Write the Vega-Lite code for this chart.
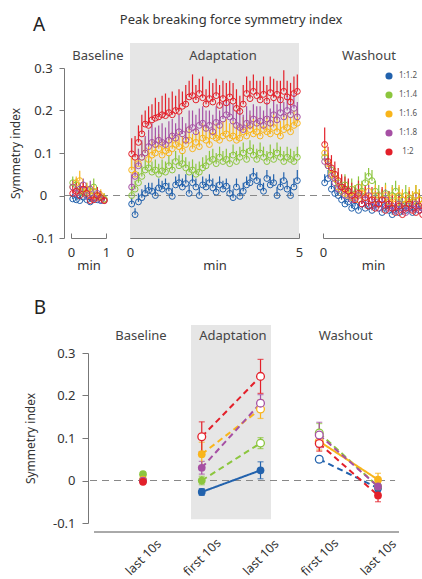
{
"$schema":"https://vega.github.io/schema/vega-lite/v6.json",
"padding":{"left":9,"top":14,"right":0,"bottom":0},
"background":"white",
"config":{
 "font":"Noto Sans",
 "view":{"stroke":null},
 "axis":{"grid":false,"domainColor":"#777","tickColor":"#777","labelColor":"#333","titleColor":"#333","labelFontSize":13,"titleFontSize":13,"titleFontWeight":"normal","labelFont":"Noto Sans","titleFont":"Noto Sans"}
},
"datasets":{
"one":[{}],
"base":[
{"ratio":"1:1.2","t":0.05,"si":-0.008,"hi":0.004},{"ratio":"1:1.2","t":0.15,"si":-0.01,"hi":0.002},{"ratio":"1:1.2","t":0.25,"si":-0.012,"hi":0.003},{"ratio":"1:1.2","t":0.35,"si":-0.004,"hi":0.01},{"ratio":"1:1.2","t":0.45,"si":-0.01,"hi":0.004},{"ratio":"1:1.2","t":0.55,"si":-0.015,"hi":-0.002},{"ratio":"1:1.2","t":0.65,"si":-0.006,"hi":0.008},{"ratio":"1:1.2","t":0.75,"si":-0.01,"hi":0.005},{"ratio":"1:1.2","t":0.85,"si":-0.012,"hi":0.0},{"ratio":"1:1.2","t":0.95,"si":-0.01,"hi":0.004},
{"ratio":"1:1.4","t":0.05,"si":0.03,"hi":0.045},{"ratio":"1:1.4","t":0.15,"si":0.025,"hi":0.04},{"ratio":"1:1.4","t":0.25,"si":0.01,"hi":0.025},{"ratio":"1:1.4","t":0.35,"si":0.005,"hi":0.02},{"ratio":"1:1.4","t":0.45,"si":0.015,"hi":0.03},{"ratio":"1:1.4","t":0.55,"si":0.01,"hi":0.025},{"ratio":"1:1.4","t":0.65,"si":0.02,"hi":0.04},{"ratio":"1:1.4","t":0.75,"si":0.0,"hi":0.015},{"ratio":"1:1.4","t":0.85,"si":-0.005,"hi":0.01},{"ratio":"1:1.4","t":0.95,"si":-0.008,"hi":0.005},
{"ratio":"1:1.6","t":0.05,"si":0.02,"hi":0.035},{"ratio":"1:1.6","t":0.15,"si":0.03,"hi":0.045},{"ratio":"1:1.6","t":0.25,"si":0.035,"hi":0.058},{"ratio":"1:1.6","t":0.35,"si":0.01,"hi":0.03},{"ratio":"1:1.6","t":0.45,"si":0.015,"hi":0.03},{"ratio":"1:1.6","t":0.55,"si":0.0,"hi":0.015},{"ratio":"1:1.6","t":0.65,"si":0.01,"hi":0.025},{"ratio":"1:1.6","t":0.75,"si":-0.005,"hi":0.01},{"ratio":"1:1.6","t":0.85,"si":0.0,"hi":0.015},{"ratio":"1:1.6","t":0.95,"si":-0.01,"hi":0.005},
{"ratio":"1:1.8","t":0.05,"si":0.02,"hi":0.035},{"ratio":"1:1.8","t":0.15,"si":0.005,"hi":0.02},{"ratio":"1:1.8","t":0.25,"si":0.015,"hi":0.03},{"ratio":"1:1.8","t":0.35,"si":0.025,"hi":0.04},{"ratio":"1:1.8","t":0.45,"si":0.0,"hi":0.015},{"ratio":"1:1.8","t":0.55,"si":0.015,"hi":0.035},{"ratio":"1:1.8","t":0.65,"si":-0.005,"hi":0.01},{"ratio":"1:1.8","t":0.75,"si":0.005,"hi":0.02},{"ratio":"1:1.8","t":0.85,"si":-0.01,"hi":0.005},{"ratio":"1:1.8","t":0.95,"si":-0.012,"hi":0.0},
{"ratio":"1:2","t":0.05,"si":0.005,"hi":0.025},{"ratio":"1:2","t":0.15,"si":0.01,"hi":0.03},{"ratio":"1:2","t":0.25,"si":0.0,"hi":0.02},{"ratio":"1:2","t":0.35,"si":0.015,"hi":0.03},{"ratio":"1:2","t":0.45,"si":0.005,"hi":0.02},{"ratio":"1:2","t":0.55,"si":-0.012,"hi":0.0},{"ratio":"1:2","t":0.65,"si":-0.01,"hi":0.005},{"ratio":"1:2","t":0.75,"si":0.0,"hi":0.02},{"ratio":"1:2","t":0.85,"si":-0.005,"hi":0.01},{"ratio":"1:2","t":0.95,"si":-0.012,"hi":0.0}
],
"adapt":[
{"ratio":"1:1.2","t":0.05,"si":-0.02,"hi":-0.005},{"ratio":"1:1.2","t":0.15,"si":-0.045,"hi":-0.03},{"ratio":"1:1.2","t":0.25,"si":-0.015,"hi":0.005},{"ratio":"1:1.2","t":0.35,"si":-0.005,"hi":0.015},{"ratio":"1:1.2","t":0.45,"si":0.005,"hi":0.025},{"ratio":"1:1.2","t":0.55,"si":0.012,"hi":0.03},{"ratio":"1:1.2","t":0.65,"si":0.01,"hi":0.03},{"ratio":"1:1.2","t":0.75,"si":0.0,"hi":0.02},{"ratio":"1:1.2","t":0.85,"si":0.018,"hi":0.04},{"ratio":"1:1.2","t":0.95,"si":0.015,"hi":0.035},
{"ratio":"1:1.2","t":1.05,"si":0.022,"hi":0.04},{"ratio":"1:1.2","t":1.15,"si":0.01,"hi":0.03},{"ratio":"1:1.2","t":1.25,"si":-0.002,"hi":0.018},{"ratio":"1:1.2","t":1.35,"si":0.025,"hi":0.045},{"ratio":"1:1.2","t":1.45,"si":0.03,"hi":0.05},{"ratio":"1:1.2","t":1.55,"si":0.02,"hi":0.04},{"ratio":"1:1.2","t":1.65,"si":0.028,"hi":0.05},{"ratio":"1:1.2","t":1.75,"si":0.005,"hi":0.025},{"ratio":"1:1.2","t":1.85,"si":0.03,"hi":0.05},{"ratio":"1:1.2","t":1.95,"si":0.02,"hi":0.04},
{"ratio":"1:1.2","t":2.05,"si":0.0,"hi":0.02},{"ratio":"1:1.2","t":2.15,"si":0.025,"hi":0.045},{"ratio":"1:1.2","t":2.25,"si":0.02,"hi":0.04},{"ratio":"1:1.2","t":2.35,"si":0.03,"hi":0.05},{"ratio":"1:1.2","t":2.45,"si":0.018,"hi":0.04},{"ratio":"1:1.2","t":2.55,"si":0.008,"hi":0.03},{"ratio":"1:1.2","t":2.65,"si":0.025,"hi":0.045},{"ratio":"1:1.2","t":2.75,"si":0.015,"hi":0.035},{"ratio":"1:1.2","t":2.85,"si":0.022,"hi":0.04},{"ratio":"1:1.2","t":2.95,"si":0.005,"hi":0.025},
{"ratio":"1:1.2","t":3.05,"si":-0.005,"hi":0.015},{"ratio":"1:1.2","t":3.15,"si":0.02,"hi":0.04},{"ratio":"1:1.2","t":3.25,"si":-0.002,"hi":0.018},{"ratio":"1:1.2","t":3.35,"si":0.01,"hi":0.03},{"ratio":"1:1.2","t":3.45,"si":0.025,"hi":0.045},{"ratio":"1:1.2","t":3.55,"si":0.03,"hi":0.05},{"ratio":"1:1.2","t":3.65,"si":0.045,"hi":0.065},{"ratio":"1:1.2","t":3.75,"si":0.035,"hi":0.055},{"ratio":"1:1.2","t":3.85,"si":0.02,"hi":0.04},{"ratio":"1:1.2","t":3.95,"si":0.01,"hi":0.03},
{"ratio":"1:1.2","t":4.05,"si":0.04,"hi":0.06},{"ratio":"1:1.2","t":4.15,"si":0.025,"hi":0.045},{"ratio":"1:1.2","t":4.25,"si":0.03,"hi":0.05},{"ratio":"1:1.2","t":4.35,"si":0.0,"hi":0.02},{"ratio":"1:1.2","t":4.45,"si":0.02,"hi":0.04},{"ratio":"1:1.2","t":4.55,"si":0.035,"hi":0.055},{"ratio":"1:1.2","t":4.65,"si":0.015,"hi":0.035},{"ratio":"1:1.2","t":4.75,"si":0.0,"hi":0.02},{"ratio":"1:1.2","t":4.85,"si":0.02,"hi":0.04},{"ratio":"1:1.2","t":4.95,"si":0.035,"hi":0.06},
{"ratio":"1:1.4","t":0.05,"si":0.0,"hi":0.02},{"ratio":"1:1.4","t":0.15,"si":0.015,"hi":0.035},{"ratio":"1:1.4","t":0.25,"si":0.03,"hi":0.055},{"ratio":"1:1.4","t":0.35,"si":0.045,"hi":0.07},{"ratio":"1:1.4","t":0.45,"si":0.06,"hi":0.085},{"ratio":"1:1.4","t":0.55,"si":0.065,"hi":0.09},{"ratio":"1:1.4","t":0.65,"si":0.055,"hi":0.08},{"ratio":"1:1.4","t":0.75,"si":0.06,"hi":0.085},{"ratio":"1:1.4","t":0.85,"si":0.05,"hi":0.075},{"ratio":"1:1.4","t":0.95,"si":0.058,"hi":0.085},
{"ratio":"1:1.4","t":1.05,"si":0.055,"hi":0.08},{"ratio":"1:1.4","t":1.15,"si":0.07,"hi":0.095},{"ratio":"1:1.4","t":1.25,"si":0.06,"hi":0.085},{"ratio":"1:1.4","t":1.35,"si":0.08,"hi":0.105},{"ratio":"1:1.4","t":1.45,"si":0.07,"hi":0.095},{"ratio":"1:1.4","t":1.55,"si":0.075,"hi":0.1},{"ratio":"1:1.4","t":1.65,"si":0.065,"hi":0.09},{"ratio":"1:1.4","t":1.75,"si":0.055,"hi":0.08},{"ratio":"1:1.4","t":1.85,"si":0.06,"hi":0.085},{"ratio":"1:1.4","t":1.95,"si":0.05,"hi":0.075},
{"ratio":"1:1.4","t":2.05,"si":0.055,"hi":0.08},{"ratio":"1:1.4","t":2.15,"si":0.065,"hi":0.09},{"ratio":"1:1.4","t":2.25,"si":0.07,"hi":0.095},{"ratio":"1:1.4","t":2.35,"si":0.08,"hi":0.105},{"ratio":"1:1.4","t":2.45,"si":0.085,"hi":0.11},{"ratio":"1:1.4","t":2.55,"si":0.075,"hi":0.1},{"ratio":"1:1.4","t":2.65,"si":0.09,"hi":0.115},{"ratio":"1:1.4","t":2.75,"si":0.08,"hi":0.105},{"ratio":"1:1.4","t":2.85,"si":0.085,"hi":0.11},{"ratio":"1:1.4","t":2.95,"si":0.075,"hi":0.1},
{"ratio":"1:1.4","t":3.05,"si":0.095,"hi":0.12},{"ratio":"1:1.4","t":3.15,"si":0.08,"hi":0.105},{"ratio":"1:1.4","t":3.25,"si":0.09,"hi":0.115},{"ratio":"1:1.4","t":3.35,"si":0.1,"hi":0.125},{"ratio":"1:1.4","t":3.45,"si":0.085,"hi":0.11},{"ratio":"1:1.4","t":3.55,"si":0.105,"hi":0.13},{"ratio":"1:1.4","t":3.65,"si":0.095,"hi":0.12},{"ratio":"1:1.4","t":3.75,"si":0.085,"hi":0.11},{"ratio":"1:1.4","t":3.85,"si":0.1,"hi":0.125},{"ratio":"1:1.4","t":3.95,"si":0.09,"hi":0.115},
{"ratio":"1:1.4","t":4.05,"si":0.08,"hi":0.105},{"ratio":"1:1.4","t":4.15,"si":0.095,"hi":0.12},{"ratio":"1:1.4","t":4.25,"si":0.085,"hi":0.11},{"ratio":"1:1.4","t":4.35,"si":0.1,"hi":0.125},{"ratio":"1:1.4","t":4.45,"si":0.09,"hi":0.115},{"ratio":"1:1.4","t":4.55,"si":0.08,"hi":0.105},{"ratio":"1:1.4","t":4.65,"si":0.09,"hi":0.115},{"ratio":"1:1.4","t":4.75,"si":0.085,"hi":0.11},{"ratio":"1:1.4","t":4.85,"si":0.08,"hi":0.105},{"ratio":"1:1.4","t":4.95,"si":0.09,"hi":0.115},
{"ratio":"1:1.6","t":0.05,"si":0.06,"hi":0.09},{"ratio":"1:1.6","t":0.15,"si":0.05,"hi":0.085},{"ratio":"1:1.6","t":0.25,"si":0.075,"hi":0.11},{"ratio":"1:1.6","t":0.35,"si":0.09,"hi":0.125},{"ratio":"1:1.6","t":0.45,"si":0.1,"hi":0.135},{"ratio":"1:1.6","t":0.55,"si":0.085,"hi":0.12},{"ratio":"1:1.6","t":0.65,"si":0.095,"hi":0.13},{"ratio":"1:1.6","t":0.75,"si":0.1,"hi":0.14},{"ratio":"1:1.6","t":0.85,"si":0.11,"hi":0.145},{"ratio":"1:1.6","t":0.95,"si":0.095,"hi":0.13},
{"ratio":"1:1.6","t":1.05,"si":0.105,"hi":0.14},{"ratio":"1:1.6","t":1.15,"si":0.1,"hi":0.135},{"ratio":"1:1.6","t":1.25,"si":0.11,"hi":0.15},{"ratio":"1:1.6","t":1.35,"si":0.12,"hi":0.155},{"ratio":"1:1.6","t":1.45,"si":0.115,"hi":0.15},{"ratio":"1:1.6","t":1.55,"si":0.105,"hi":0.14},{"ratio":"1:1.6","t":1.65,"si":0.12,"hi":0.16},{"ratio":"1:1.6","t":1.75,"si":0.13,"hi":0.165},{"ratio":"1:1.6","t":1.85,"si":0.11,"hi":0.145},{"ratio":"1:1.6","t":1.95,"si":0.125,"hi":0.16},
{"ratio":"1:1.6","t":2.05,"si":0.115,"hi":0.15},{"ratio":"1:1.6","t":2.15,"si":0.135,"hi":0.17},{"ratio":"1:1.6","t":2.25,"si":0.13,"hi":0.165},{"ratio":"1:1.6","t":2.35,"si":0.12,"hi":0.155},{"ratio":"1:1.6","t":2.45,"si":0.14,"hi":0.175},{"ratio":"1:1.6","t":2.55,"si":0.135,"hi":0.17},{"ratio":"1:1.6","t":2.65,"si":0.13,"hi":0.165},{"ratio":"1:1.6","t":2.75,"si":0.14,"hi":0.175},{"ratio":"1:1.6","t":2.85,"si":0.145,"hi":0.18},{"ratio":"1:1.6","t":2.95,"si":0.135,"hi":0.17},
{"ratio":"1:1.6","t":3.05,"si":0.14,"hi":0.175},{"ratio":"1:1.6","t":3.15,"si":0.13,"hi":0.165},{"ratio":"1:1.6","t":3.25,"si":0.135,"hi":0.17},{"ratio":"1:1.6","t":3.35,"si":0.15,"hi":0.185},{"ratio":"1:1.6","t":3.45,"si":0.14,"hi":0.175},{"ratio":"1:1.6","t":3.55,"si":0.155,"hi":0.19},{"ratio":"1:1.6","t":3.65,"si":0.145,"hi":0.18},{"ratio":"1:1.6","t":3.75,"si":0.15,"hi":0.185},{"ratio":"1:1.6","t":3.85,"si":0.14,"hi":0.175},{"ratio":"1:1.6","t":3.95,"si":0.155,"hi":0.19},
{"ratio":"1:1.6","t":4.05,"si":0.15,"hi":0.185},{"ratio":"1:1.6","t":4.15,"si":0.145,"hi":0.18},{"ratio":"1:1.6","t":4.25,"si":0.16,"hi":0.195},{"ratio":"1:1.6","t":4.35,"si":0.15,"hi":0.185},{"ratio":"1:1.6","t":4.45,"si":0.14,"hi":0.175},{"ratio":"1:1.6","t":4.55,"si":0.155,"hi":0.19},{"ratio":"1:1.6","t":4.65,"si":0.16,"hi":0.195},{"ratio":"1:1.6","t":4.75,"si":0.15,"hi":0.185},{"ratio":"1:1.6","t":4.85,"si":0.165,"hi":0.2},{"ratio":"1:1.6","t":4.95,"si":0.17,"hi":0.205},
{"ratio":"1:1.8","t":0.05,"si":0.02,"hi":0.05},{"ratio":"1:1.8","t":0.15,"si":0.045,"hi":0.08},{"ratio":"1:1.8","t":0.25,"si":0.07,"hi":0.11},{"ratio":"1:1.8","t":0.35,"si":0.09,"hi":0.13},{"ratio":"1:1.8","t":0.45,"si":0.1,"hi":0.14},{"ratio":"1:1.8","t":0.55,"si":0.115,"hi":0.155},{"ratio":"1:1.8","t":0.65,"si":0.125,"hi":0.17},{"ratio":"1:1.8","t":0.75,"si":0.12,"hi":0.16},{"ratio":"1:1.8","t":0.85,"si":0.13,"hi":0.165},{"ratio":"1:1.8","t":0.95,"si":0.125,"hi":0.17},
{"ratio":"1:1.8","t":1.05,"si":0.12,"hi":0.16},{"ratio":"1:1.8","t":1.15,"si":0.13,"hi":0.175},{"ratio":"1:1.8","t":1.25,"si":0.14,"hi":0.18},{"ratio":"1:1.8","t":1.35,"si":0.135,"hi":0.17},{"ratio":"1:1.8","t":1.45,"si":0.15,"hi":0.19},{"ratio":"1:1.8","t":1.55,"si":0.145,"hi":0.185},{"ratio":"1:1.8","t":1.65,"si":0.13,"hi":0.17},{"ratio":"1:1.8","t":1.75,"si":0.155,"hi":0.2},{"ratio":"1:1.8","t":1.85,"si":0.16,"hi":0.2},{"ratio":"1:1.8","t":1.95,"si":0.15,"hi":0.19},
{"ratio":"1:1.8","t":2.05,"si":0.165,"hi":0.205},{"ratio":"1:1.8","t":2.15,"si":0.17,"hi":0.21},{"ratio":"1:1.8","t":2.25,"si":0.158,"hi":0.2},{"ratio":"1:1.8","t":2.35,"si":0.165,"hi":0.2},{"ratio":"1:1.8","t":2.45,"si":0.15,"hi":0.19},{"ratio":"1:1.8","t":2.55,"si":0.172,"hi":0.21},{"ratio":"1:1.8","t":2.65,"si":0.165,"hi":0.2},{"ratio":"1:1.8","t":2.75,"si":0.18,"hi":0.22},{"ratio":"1:1.8","t":2.85,"si":0.19,"hi":0.225},{"ratio":"1:1.8","t":2.95,"si":0.185,"hi":0.22},
{"ratio":"1:1.8","t":3.05,"si":0.175,"hi":0.215},{"ratio":"1:1.8","t":3.15,"si":0.165,"hi":0.2},{"ratio":"1:1.8","t":3.25,"si":0.16,"hi":0.2},{"ratio":"1:1.8","t":3.35,"si":0.155,"hi":0.19},{"ratio":"1:1.8","t":3.45,"si":0.17,"hi":0.21},{"ratio":"1:1.8","t":3.55,"si":0.165,"hi":0.2},{"ratio":"1:1.8","t":3.65,"si":0.18,"hi":0.215},{"ratio":"1:1.8","t":3.75,"si":0.17,"hi":0.21},{"ratio":"1:1.8","t":3.85,"si":0.175,"hi":0.21},{"ratio":"1:1.8","t":3.95,"si":0.165,"hi":0.2},
{"ratio":"1:1.8","t":4.05,"si":0.18,"hi":0.22},{"ratio":"1:1.8","t":4.15,"si":0.17,"hi":0.205},{"ratio":"1:1.8","t":4.25,"si":0.19,"hi":0.225},{"ratio":"1:1.8","t":4.35,"si":0.178,"hi":0.215},{"ratio":"1:1.8","t":4.45,"si":0.195,"hi":0.23},{"ratio":"1:1.8","t":4.55,"si":0.185,"hi":0.22},{"ratio":"1:1.8","t":4.65,"si":0.2,"hi":0.235},{"ratio":"1:1.8","t":4.75,"si":0.19,"hi":0.225},{"ratio":"1:1.8","t":4.85,"si":0.205,"hi":0.24},{"ratio":"1:1.8","t":4.95,"si":0.185,"hi":0.22},
{"ratio":"1:2","t":0.05,"si":0.098,"hi":0.135},{"ratio":"1:2","t":0.15,"si":0.09,"hi":0.14},{"ratio":"1:2","t":0.25,"si":0.125,"hi":0.165},{"ratio":"1:2","t":0.35,"si":0.145,"hi":0.19},{"ratio":"1:2","t":0.45,"si":0.168,"hi":0.2},{"ratio":"1:2","t":0.55,"si":0.165,"hi":0.21},{"ratio":"1:2","t":0.65,"si":0.178,"hi":0.215},{"ratio":"1:2","t":0.75,"si":0.182,"hi":0.23},{"ratio":"1:2","t":0.85,"si":0.185,"hi":0.22},{"ratio":"1:2","t":0.95,"si":0.19,"hi":0.235},
{"ratio":"1:2","t":1.05,"si":0.188,"hi":0.24},{"ratio":"1:2","t":1.15,"si":0.195,"hi":0.23},{"ratio":"1:2","t":1.25,"si":0.19,"hi":0.245},{"ratio":"1:2","t":1.35,"si":0.2,"hi":0.235},{"ratio":"1:2","t":1.45,"si":0.198,"hi":0.25},{"ratio":"1:2","t":1.55,"si":0.21,"hi":0.245},{"ratio":"1:2","t":1.65,"si":0.215,"hi":0.26},{"ratio":"1:2","t":1.75,"si":0.232,"hi":0.27},{"ratio":"1:2","t":1.85,"si":0.235,"hi":0.285},{"ratio":"1:2","t":1.95,"si":0.225,"hi":0.26},
{"ratio":"1:2","t":2.05,"si":0.24,"hi":0.275},{"ratio":"1:2","t":2.15,"si":0.23,"hi":0.28},{"ratio":"1:2","t":2.25,"si":0.215,"hi":0.25},{"ratio":"1:2","t":2.35,"si":0.228,"hi":0.27},{"ratio":"1:2","t":2.45,"si":0.22,"hi":0.265},{"ratio":"1:2","t":2.55,"si":0.235,"hi":0.275},{"ratio":"1:2","t":2.65,"si":0.212,"hi":0.26},{"ratio":"1:2","t":2.75,"si":0.228,"hi":0.27},{"ratio":"1:2","t":2.85,"si":0.218,"hi":0.265},{"ratio":"1:2","t":2.95,"si":0.232,"hi":0.27},
{"ratio":"1:2","t":3.05,"si":0.222,"hi":0.265},{"ratio":"1:2","t":3.15,"si":0.205,"hi":0.25},{"ratio":"1:2","t":3.25,"si":0.198,"hi":0.235},{"ratio":"1:2","t":3.35,"si":0.215,"hi":0.26},{"ratio":"1:2","t":3.45,"si":0.24,"hi":0.28},{"ratio":"1:2","t":3.55,"si":0.228,"hi":0.27},{"ratio":"1:2","t":3.65,"si":0.245,"hi":0.285},{"ratio":"1:2","t":3.75,"si":0.235,"hi":0.27},{"ratio":"1:2","t":3.85,"si":0.225,"hi":0.27},{"ratio":"1:2","t":3.95,"si":0.238,"hi":0.28},
{"ratio":"1:2","t":4.05,"si":0.222,"hi":0.26},{"ratio":"1:2","t":4.15,"si":0.242,"hi":0.28},{"ratio":"1:2","t":4.25,"si":0.23,"hi":0.275},{"ratio":"1:2","t":4.35,"si":0.238,"hi":0.27},{"ratio":"1:2","t":4.45,"si":0.225,"hi":0.27},{"ratio":"1:2","t":4.55,"si":0.245,"hi":0.295},{"ratio":"1:2","t":4.65,"si":0.232,"hi":0.27},{"ratio":"1:2","t":4.75,"si":0.22,"hi":0.265},{"ratio":"1:2","t":4.85,"si":0.24,"hi":0.28},{"ratio":"1:2","t":4.95,"si":0.245,"hi":0.285}
],
"wash":[
{"ratio":"1:1.2","t":0.05,"si":0.03,"hi":0.05},{"ratio":"1:1.2","t":0.15,"si":0.04,"hi":0.06},{"ratio":"1:1.2","t":0.25,"si":0.015,"hi":0.035},{"ratio":"1:1.2","t":0.35,"si":0.005,"hi":0.025},{"ratio":"1:1.2","t":0.45,"si":0.0,"hi":0.02},{"ratio":"1:1.2","t":0.55,"si":-0.01,"hi":0.01},{"ratio":"1:1.2","t":0.65,"si":-0.02,"hi":0.0},{"ratio":"1:1.2","t":0.75,"si":-0.015,"hi":0.005},{"ratio":"1:1.2","t":0.85,"si":-0.03,"hi":-0.01},{"ratio":"1:1.2","t":0.95,"si":-0.025,"hi":-0.005},
{"ratio":"1:1.2","t":1.05,"si":-0.035,"hi":-0.015},{"ratio":"1:1.2","t":1.15,"si":-0.02,"hi":0.0},{"ratio":"1:1.2","t":1.25,"si":-0.03,"hi":-0.01},{"ratio":"1:1.2","t":1.35,"si":-0.025,"hi":-0.005},{"ratio":"1:1.2","t":1.45,"si":-0.035,"hi":-0.015},{"ratio":"1:1.2","t":1.55,"si":-0.02,"hi":0.0},{"ratio":"1:1.2","t":1.65,"si":-0.03,"hi":-0.01},{"ratio":"1:1.2","t":1.75,"si":-0.04,"hi":-0.02},{"ratio":"1:1.2","t":1.85,"si":-0.025,"hi":-0.005},{"ratio":"1:1.2","t":1.95,"si":-0.035,"hi":-0.015},
{"ratio":"1:1.2","t":2.05,"si":-0.045,"hi":-0.025},{"ratio":"1:1.2","t":2.15,"si":-0.03,"hi":-0.01},{"ratio":"1:1.2","t":2.25,"si":-0.04,"hi":-0.02},{"ratio":"1:1.2","t":2.35,"si":-0.025,"hi":-0.005},{"ratio":"1:1.2","t":2.45,"si":-0.035,"hi":-0.015},{"ratio":"1:1.2","t":2.55,"si":-0.03,"hi":-0.01},{"ratio":"1:1.2","t":2.65,"si":-0.04,"hi":-0.02},{"ratio":"1:1.2","t":2.75,"si":-0.025,"hi":-0.005},{"ratio":"1:1.2","t":2.85,"si":-0.035,"hi":-0.015},{"ratio":"1:1.2","t":2.95,"si":-0.03,"hi":-0.01},
{"ratio":"1:1.4","t":0.05,"si":0.09,"hi":0.115},{"ratio":"1:1.4","t":0.15,"si":0.07,"hi":0.095},{"ratio":"1:1.4","t":0.25,"si":0.06,"hi":0.085},{"ratio":"1:1.4","t":0.35,"si":0.04,"hi":0.065},{"ratio":"1:1.4","t":0.45,"si":0.03,"hi":0.055},{"ratio":"1:1.4","t":0.55,"si":0.02,"hi":0.045},{"ratio":"1:1.4","t":0.65,"si":0.025,"hi":0.05},{"ratio":"1:1.4","t":0.75,"si":0.01,"hi":0.035},{"ratio":"1:1.4","t":0.85,"si":0.015,"hi":0.04},{"ratio":"1:1.4","t":0.95,"si":0.0,"hi":0.025},
{"ratio":"1:1.4","t":1.05,"si":0.02,"hi":0.045},{"ratio":"1:1.4","t":1.15,"si":0.01,"hi":0.035},{"ratio":"1:1.4","t":1.25,"si":0.03,"hi":0.055},{"ratio":"1:1.4","t":1.35,"si":0.045,"hi":0.065},{"ratio":"1:1.4","t":1.45,"si":0.035,"hi":0.06},{"ratio":"1:1.4","t":1.55,"si":0.01,"hi":0.035},{"ratio":"1:1.4","t":1.65,"si":0.0,"hi":0.025},{"ratio":"1:1.4","t":1.75,"si":-0.01,"hi":0.015},{"ratio":"1:1.4","t":1.85,"si":0.005,"hi":0.03},{"ratio":"1:1.4","t":1.95,"si":-0.015,"hi":0.01},
{"ratio":"1:1.4","t":2.05,"si":0.0,"hi":0.025},{"ratio":"1:1.4","t":2.15,"si":0.01,"hi":0.035},{"ratio":"1:1.4","t":2.25,"si":-0.005,"hi":0.02},{"ratio":"1:1.4","t":2.35,"si":-0.02,"hi":0.005},{"ratio":"1:1.4","t":2.45,"si":0.0,"hi":0.025},{"ratio":"1:1.4","t":2.55,"si":-0.01,"hi":0.015},{"ratio":"1:1.4","t":2.65,"si":-0.015,"hi":0.01},{"ratio":"1:1.4","t":2.75,"si":0.0,"hi":0.025},{"ratio":"1:1.4","t":2.85,"si":-0.01,"hi":0.015},{"ratio":"1:1.4","t":2.95,"si":-0.02,"hi":0.005},
{"ratio":"1:1.6","t":0.05,"si":0.1,"hi":0.125},{"ratio":"1:1.6","t":0.15,"si":0.075,"hi":0.1},{"ratio":"1:1.6","t":0.25,"si":0.05,"hi":0.075},{"ratio":"1:1.6","t":0.35,"si":0.04,"hi":0.065},{"ratio":"1:1.6","t":0.45,"si":0.02,"hi":0.045},{"ratio":"1:1.6","t":0.55,"si":0.01,"hi":0.035},{"ratio":"1:1.6","t":0.65,"si":0.005,"hi":0.03},{"ratio":"1:1.6","t":0.75,"si":0.0,"hi":0.025},{"ratio":"1:1.6","t":0.85,"si":-0.005,"hi":0.02},{"ratio":"1:1.6","t":0.95,"si":0.0,"hi":0.025},
{"ratio":"1:1.6","t":1.05,"si":-0.01,"hi":0.015},{"ratio":"1:1.6","t":1.15,"si":0.005,"hi":0.03},{"ratio":"1:1.6","t":1.25,"si":-0.005,"hi":0.02},{"ratio":"1:1.6","t":1.35,"si":0.01,"hi":0.035},{"ratio":"1:1.6","t":1.45,"si":-0.01,"hi":0.015},{"ratio":"1:1.6","t":1.55,"si":0.0,"hi":0.025},{"ratio":"1:1.6","t":1.65,"si":-0.02,"hi":0.005},{"ratio":"1:1.6","t":1.75,"si":-0.01,"hi":0.015},{"ratio":"1:1.6","t":1.85,"si":0.0,"hi":0.025},{"ratio":"1:1.6","t":1.95,"si":-0.015,"hi":0.01},
{"ratio":"1:1.6","t":2.05,"si":-0.005,"hi":0.02},{"ratio":"1:1.6","t":2.15,"si":-0.02,"hi":0.005},{"ratio":"1:1.6","t":2.25,"si":0.0,"hi":0.025},{"ratio":"1:1.6","t":2.35,"si":-0.01,"hi":0.015},{"ratio":"1:1.6","t":2.45,"si":-0.02,"hi":0.005},{"ratio":"1:1.6","t":2.55,"si":-0.005,"hi":0.02},{"ratio":"1:1.6","t":2.65,"si":-0.015,"hi":0.01},{"ratio":"1:1.6","t":2.75,"si":0.0,"hi":0.025},{"ratio":"1:1.6","t":2.85,"si":-0.01,"hi":0.015},{"ratio":"1:1.6","t":2.95,"si":-0.02,"hi":0.005},
{"ratio":"1:1.8","t":0.05,"si":0.08,"hi":0.105},{"ratio":"1:1.8","t":0.15,"si":0.07,"hi":0.095},{"ratio":"1:1.8","t":0.25,"si":0.045,"hi":0.07},{"ratio":"1:1.8","t":0.35,"si":0.03,"hi":0.055},{"ratio":"1:1.8","t":0.45,"si":0.015,"hi":0.04},{"ratio":"1:1.8","t":0.55,"si":0.02,"hi":0.045},{"ratio":"1:1.8","t":0.65,"si":0.0,"hi":0.025},{"ratio":"1:1.8","t":0.75,"si":0.01,"hi":0.035},{"ratio":"1:1.8","t":0.85,"si":-0.01,"hi":0.015},{"ratio":"1:1.8","t":0.95,"si":-0.005,"hi":0.02},
{"ratio":"1:1.8","t":1.05,"si":0.0,"hi":0.025},{"ratio":"1:1.8","t":1.15,"si":-0.02,"hi":0.005},{"ratio":"1:1.8","t":1.25,"si":-0.01,"hi":0.015},{"ratio":"1:1.8","t":1.35,"si":0.0,"hi":0.025},{"ratio":"1:1.8","t":1.45,"si":-0.025,"hi":0.0},{"ratio":"1:1.8","t":1.55,"si":-0.015,"hi":0.01},{"ratio":"1:1.8","t":1.65,"si":-0.03,"hi":-0.005},{"ratio":"1:1.8","t":1.75,"si":-0.02,"hi":0.005},{"ratio":"1:1.8","t":1.85,"si":-0.01,"hi":0.015},{"ratio":"1:1.8","t":1.95,"si":-0.03,"hi":-0.005},
{"ratio":"1:1.8","t":2.05,"si":-0.025,"hi":0.0},{"ratio":"1:1.8","t":2.15,"si":-0.035,"hi":-0.01},{"ratio":"1:1.8","t":2.25,"si":-0.02,"hi":0.005},{"ratio":"1:1.8","t":2.35,"si":-0.03,"hi":-0.005},{"ratio":"1:1.8","t":2.45,"si":-0.04,"hi":-0.015},{"ratio":"1:1.8","t":2.55,"si":-0.025,"hi":0.0},{"ratio":"1:1.8","t":2.65,"si":-0.03,"hi":-0.005},{"ratio":"1:1.8","t":2.75,"si":-0.02,"hi":0.005},{"ratio":"1:1.8","t":2.85,"si":-0.035,"hi":-0.01},{"ratio":"1:1.8","t":2.95,"si":-0.03,"hi":-0.005},
{"ratio":"1:2","t":0.05,"si":0.12,"hi":0.16},{"ratio":"1:2","t":0.15,"si":0.08,"hi":0.115},{"ratio":"1:2","t":0.25,"si":0.065,"hi":0.095},{"ratio":"1:2","t":0.35,"si":0.05,"hi":0.08},{"ratio":"1:2","t":0.45,"si":0.035,"hi":0.065},{"ratio":"1:2","t":0.55,"si":0.02,"hi":0.05},{"ratio":"1:2","t":0.65,"si":0.015,"hi":0.045},{"ratio":"1:2","t":0.75,"si":0.01,"hi":0.04},{"ratio":"1:2","t":0.85,"si":0.0,"hi":0.03},{"ratio":"1:2","t":0.95,"si":-0.01,"hi":0.02},
{"ratio":"1:2","t":1.05,"si":0.005,"hi":0.035},{"ratio":"1:2","t":1.15,"si":-0.02,"hi":0.01},{"ratio":"1:2","t":1.25,"si":-0.005,"hi":0.025},{"ratio":"1:2","t":1.35,"si":-0.025,"hi":0.005},{"ratio":"1:2","t":1.45,"si":-0.01,"hi":0.02},{"ratio":"1:2","t":1.55,"si":-0.03,"hi":0.0},{"ratio":"1:2","t":1.65,"si":-0.02,"hi":0.01},{"ratio":"1:2","t":1.75,"si":-0.01,"hi":0.02},{"ratio":"1:2","t":1.85,"si":-0.035,"hi":-0.005},{"ratio":"1:2","t":1.95,"si":-0.02,"hi":0.01},
{"ratio":"1:2","t":2.05,"si":-0.03,"hi":0.0},{"ratio":"1:2","t":2.15,"si":-0.04,"hi":-0.01},{"ratio":"1:2","t":2.25,"si":-0.025,"hi":0.005},{"ratio":"1:2","t":2.35,"si":-0.045,"hi":-0.015},{"ratio":"1:2","t":2.45,"si":-0.03,"hi":0.0},{"ratio":"1:2","t":2.55,"si":-0.02,"hi":0.01},{"ratio":"1:2","t":2.65,"si":-0.035,"hi":-0.005},{"ratio":"1:2","t":2.75,"si":-0.04,"hi":-0.01},{"ratio":"1:2","t":2.85,"si":-0.025,"hi":0.005},{"ratio":"1:2","t":2.95,"si":-0.045,"hi":-0.015}
],
"summary":[
{"ratio":"1:1.2","phase":"Baseline","idx":1,"si":0.0,"err":0.004,"sig":true,"trendSig":"yes"},
{"ratio":"1:1.4","phase":"Baseline","idx":1,"si":0.015,"err":0.004,"sig":true,"trendSig":"yes"},
{"ratio":"1:1.6","phase":"Baseline","idx":1,"si":0.002,"err":0.004,"sig":true,"trendSig":"yes"},
{"ratio":"1:1.8","phase":"Baseline","idx":1,"si":0.0,"err":0.004,"sig":true,"trendSig":"yes"},
{"ratio":"1:2","phase":"Baseline","idx":1,"si":-0.003,"err":0.004,"sig":true,"trendSig":"yes"},
{"ratio":"1:1.2","phase":"Adaptation","idx":2,"si":-0.027,"err":0.008,"sig":true,"trendSig":"no"},
{"ratio":"1:1.2","phase":"Adaptation","idx":3,"si":0.024,"err":0.02,"sig":true,"trendSig":"no"},
{"ratio":"1:1.4","phase":"Adaptation","idx":2,"si":0.0,"err":0.01,"sig":true,"trendSig":"yes"},
{"ratio":"1:1.4","phase":"Adaptation","idx":3,"si":0.088,"err":0.013,"sig":false,"trendSig":"yes"},
{"ratio":"1:1.6","phase":"Adaptation","idx":2,"si":0.062,"err":0.028,"sig":true,"trendSig":"yes"},
{"ratio":"1:1.6","phase":"Adaptation","idx":3,"si":0.168,"err":0.022,"sig":false,"trendSig":"yes"},
{"ratio":"1:1.8","phase":"Adaptation","idx":2,"si":0.03,"err":0.015,"sig":true,"trendSig":"yes"},
{"ratio":"1:1.8","phase":"Adaptation","idx":3,"si":0.182,"err":0.02,"sig":false,"trendSig":"yes"},
{"ratio":"1:2","phase":"Adaptation","idx":2,"si":0.103,"err":0.035,"sig":false,"trendSig":"yes"},
{"ratio":"1:2","phase":"Adaptation","idx":3,"si":0.245,"err":0.04,"sig":false,"trendSig":"yes"},
{"ratio":"1:1.2","phase":"Washout","idx":4,"si":0.05,"err":0.006,"sig":false,"trendSig":"yes"},
{"ratio":"1:1.2","phase":"Washout","idx":5,"si":-0.018,"err":0.008,"sig":true,"trendSig":"yes"},
{"ratio":"1:1.4","phase":"Washout","idx":4,"si":0.112,"err":0.022,"sig":false,"trendSig":"yes"},
{"ratio":"1:1.4","phase":"Washout","idx":5,"si":-0.014,"err":0.008,"sig":true,"trendSig":"yes"},
{"ratio":"1:1.6","phase":"Washout","idx":4,"si":0.092,"err":0.02,"sig":false,"trendSig":"no"},
{"ratio":"1:1.6","phase":"Washout","idx":5,"si":0.002,"err":0.015,"sig":true,"trendSig":"no"},
{"ratio":"1:1.8","phase":"Washout","idx":4,"si":0.107,"err":0.03,"sig":false,"trendSig":"yes"},
{"ratio":"1:1.8","phase":"Washout","idx":5,"si":-0.014,"err":0.01,"sig":true,"trendSig":"yes"},
{"ratio":"1:2","phase":"Washout","idx":4,"si":0.087,"err":0.018,"sig":false,"trendSig":"yes"},
{"ratio":"1:2","phase":"Washout","idx":5,"si":-0.035,"err":0.015,"sig":true,"trendSig":"yes"}
]
},
"vconcat":[
{"hconcat":[
 {"width":35,"height":170,"layer":[
  {"data":{"name":"base"},"mark":{"type":"rule","strokeWidth":1.2},"encoding":{
   "x":{"field":"t","type":"quantitative","scale":{"domain":[0,1],"nice":false,"zero":false},"axis":{"values":[0,1],"title":"min","tickSize":-5,"labelPadding":13,"titlePadding":0,"labelFlush":false}},
   "y":{"field":"si","type":"quantitative","scale":{"domain":[-0.1,0.3],"nice":false},"axis":{"values":[-0.1,0,0.1,0.2,0.3],"offset":7,"tickSize":5,"labelAlign":"center","labelPadding":16,"labelExpr":"datum.value == 0 ? '0' : (datum.value < 0 ? '-' : '') + format(abs(datum.value), '.1f')","title":"Symmetry index","titleFontSize":12,"titlePadding":9}},
   "y2":{"field":"hi"},
   "color":{"field":"ratio","type":"nominal","scale":{"domain":["1:1.2","1:1.4","1:1.6","1:1.8","1:2"],"range":["#2262ad","#8cc63e","#f9b51b","#a650a4","#e3202a"]}}}},
  {"data":{"name":"one"},"mark":{"type":"rule","strokeDash":[7,5],"color":"#888","strokeWidth":1},"encoding":{"x":{"datum":-0.17,"type":"quantitative"},"x2":{"datum":1.69},"y":{"datum":0,"type":"quantitative"}}},
  {"data":{"name":"base"},"mark":{"type":"point","filled":false,"size":35,"strokeWidth":1,"opacity":1},"encoding":{
   "x":{"field":"t","type":"quantitative"},"y":{"field":"si","type":"quantitative"},
   "color":{"field":"ratio","type":"nominal","scale":{"domain":["1:1.2","1:1.4","1:1.6","1:1.8","1:2"],"range":["#2262ad","#8cc63e","#f9b51b","#a650a4","#e3202a"]}}}},
  {"data":{"name":"one"},"mark":{"type":"text","text":"A","fontSize":19,"color":"#222","baseline":"alphabetic"},"encoding":{"x":{"datum":-0.914,"type":"quantitative"},"y":{"datum":0.387,"type":"quantitative"}}},
  {"data":{"name":"one"},"mark":{"type":"text","text":"Baseline","fontSize":13,"color":"#444","baseline":"alphabetic"},"encoding":{"x":{"datum":0.77,"type":"quantitative"},"y":{"datum":0.319,"type":"quantitative"}}}
 ]},
 {"width":169,"height":170,"layer":[
  {"data":{"name":"adapt"},"mark":{"type":"rule","strokeWidth":1.2,"opacity":0},"encoding":{
   "x":{"field":"t","type":"quantitative","scale":{"domain":[0,5],"nice":false,"zero":false},"axis":{"values":[0,5],"title":"min","tickSize":-5,"labelPadding":13,"titlePadding":0,"labelFlush":false}},
   "y":{"field":"si","type":"quantitative","scale":{"domain":[-0.1,0.3],"nice":false},"axis":null},
   "y2":{"field":"hi"}}},
  {"data":{"name":"one"},"mark":{"type":"rect","color":"#e6e6e6"},"encoding":{"x":{"datum":0,"type":"quantitative"},"x2":{"datum":5},"y":{"datum":-0.1,"type":"quantitative"},"y2":{"datum":0.359}}},
  {"data":{"name":"one"},"mark":{"type":"rule","strokeDash":[7,5],"color":"#888","strokeWidth":1},"encoding":{"x":{"datum":0,"type":"quantitative"},"x2":{"datum":5.71},"y":{"datum":0,"type":"quantitative"}}},
  {"data":{"name":"adapt"},"mark":{"type":"rule","strokeWidth":1.2},"encoding":{
   "x":{"field":"t","type":"quantitative"},"y":{"field":"si","type":"quantitative"},"y2":{"field":"hi"},
   "color":{"field":"ratio","type":"nominal","scale":{"domain":["1:1.2","1:1.4","1:1.6","1:1.8","1:2"],"range":["#2262ad","#8cc63e","#f9b51b","#a650a4","#e3202a"]}}}},
  {"data":{"name":"adapt"},"mark":{"type":"point","filled":false,"size":35,"strokeWidth":1,"opacity":1},"encoding":{
   "x":{"field":"t","type":"quantitative"},"y":{"field":"si","type":"quantitative"},
   "color":{"field":"ratio","type":"nominal","scale":{"domain":["1:1.2","1:1.4","1:1.6","1:1.8","1:2"],"range":["#2262ad","#8cc63e","#f9b51b","#a650a4","#e3202a"]}}}},
  {"data":{"name":"one"},"mark":{"type":"text","text":"Adaptation","fontSize":13,"color":"#444","baseline":"alphabetic"},"encoding":{"x":{"datum":2.75,"type":"quantitative"},"y":{"datum":0.319,"type":"quantitative"}}},
  {"data":{"name":"one"},"mark":{"type":"text","text":"Peak breaking force symmetry index","fontSize":13,"color":"#333","baseline":"alphabetic"},"encoding":{"x":{"datum":2.99,"type":"quantitative"},"y":{"datum":0.4035,"type":"quantitative"}}}
 ]},
 {"width":100,"height":170,"layer":[
  {"data":{"name":"wash"},"mark":{"type":"rule","strokeWidth":1.2},"encoding":{
   "x":{"field":"t","type":"quantitative","scale":{"domain":[0,2.96],"nice":false,"zero":false},"axis":{"values":[0],"title":"min","tickSize":-5,"labelPadding":13,"titlePadding":0,"labelFlush":false}},
   "y":{"field":"si","type":"quantitative","scale":{"domain":[-0.1,0.3],"nice":false},"axis":null},
   "y2":{"field":"hi"},
   "color":{"field":"ratio","type":"nominal","scale":{"domain":["1:1.2","1:1.4","1:1.6","1:1.8","1:2"],"range":["#2262ad","#8cc63e","#f9b51b","#a650a4","#e3202a"]}}}},
  {"data":{"name":"one"},"mark":{"type":"rule","strokeDash":[7,5],"color":"#888","strokeWidth":1},"encoding":{"x":{"datum":0,"type":"quantitative"},"x2":{"datum":3.0},"y":{"datum":0,"type":"quantitative"}}},
  {"data":{"name":"wash"},"mark":{"type":"point","filled":false,"size":35,"strokeWidth":1,"opacity":1},"encoding":{
   "x":{"field":"t","type":"quantitative"},"y":{"field":"si","type":"quantitative"},
   "color":{"field":"ratio","type":"nominal","scale":{"domain":["1:1.2","1:1.4","1:1.6","1:1.8","1:2"],"range":["#2262ad","#8cc63e","#f9b51b","#a650a4","#e3202a"]}}}},
  {"data":{"name":"one"},"mark":{"type":"text","text":"Washout","fontSize":13,"color":"#444","baseline":"alphabetic"},"encoding":{"x":{"datum":1.36,"type":"quantitative"},"y":{"datum":0.319,"type":"quantitative"}}}
 ]}
],"spacing":24,"bounds":"flush"},
{"width":328,"height":170,"layer":[
 {"data":{"name":"summary"},"mark":{"type":"line","strokeWidth":2,"opacity":0},"encoding":{
  "x":{"field":"idx","type":"quantitative","scale":{"domain":[-0.2255,5.357],"nice":false,"zero":false},"axis":{"values":[1,2,3,4,5],"labelExpr":"datum.value % 2 == 0 ? 'first 10s' : 'last 10s'","offset":9,"domain":false,"ticks":false,"title":null,"labelAngle":-45,"labelAlign":"center","labelBaseline":"middle","labelPadding":25,"labelFontSize":12.5,"labelFlush":false}},
  "y":{"field":"si","type":"quantitative","scale":{"domain":[-0.1,0.3],"nice":false},"axis":{"values":[-0.1,0,0.1,0.2,0.3],"offset":-17,"tickSize":6,"labelPadding":7,"labelExpr":"datum.value == 0 ? '0' : (datum.value < 0 ? '-' : '') + format(abs(datum.value), '.1f')","title":"Symmetry index","titleFontSize":12,"titlePadding":15}}}},
 {"data":{"name":"one"},"mark":{"type":"rect","color":"#e6e6e6"},"encoding":{"x":{"datum":1.817,"type":"quantitative"},"x2":{"datum":3.179},"y":{"datum":-0.091,"type":"quantitative"},"y2":{"datum":0.366}}},
 {"data":{"name":"one"},"mark":{"type":"rule","strokeDash":[7,5],"color":"#888","strokeWidth":1},"encoding":{"x":{"datum":0.098,"type":"quantitative"},"x2":{"datum":5.29},"y":{"datum":0,"type":"quantitative"}}},
 {"data":{"name":"one"},"mark":{"type":"rule","color":"#555","strokeWidth":1},"encoding":{"x":{"datum":0.166,"type":"quantitative"},"x2":{"datum":5.357},"y":{"datum":-0.1212,"type":"quantitative"}}},
 {"data":{"name":"summary"},"mark":{"type":"line","strokeWidth":2},"encoding":{
  "x":{"field":"idx","type":"quantitative"},"y":{"field":"si","type":"quantitative"},
  "color":{"field":"ratio","type":"nominal","scale":{"domain":["1:1.2","1:1.4","1:1.6","1:1.8","1:2"],"range":["#2262ad","#8cc63e","#f9b51b","#a650a4","#e3202a"]}},
  "detail":{"field":"phase"},
  "strokeDash":{"field":"trendSig","type":"nominal","scale":{"domain":["yes","no"],"range":[[6,4],[1,0]]},"legend":null}}},
 {"data":{"name":"summary"},"mark":{"type":"errorbar","ticks":true,"size":6,"thickness":1.2},"encoding":{
  "x":{"field":"idx","type":"quantitative"},
  "y":{"field":"si","type":"quantitative","title":"Symmetry index"},
  "yError":{"field":"err"},
  "color":{"field":"ratio","type":"nominal","scale":{"domain":["1:1.2","1:1.4","1:1.6","1:1.8","1:2"],"range":["#2262ad","#8cc63e","#f9b51b","#a650a4","#e3202a"]}}}},
 {"data":{"name":"summary"},"transform":[{"filter":"!datum.sig"}],"mark":{"type":"point","filled":false,"fill":"white","size":60,"strokeWidth":1.3,"opacity":1},"encoding":{
  "x":{"field":"idx","type":"quantitative"},"y":{"field":"si","type":"quantitative"},
  "color":{"field":"ratio","type":"nominal","scale":{"domain":["1:1.2","1:1.4","1:1.6","1:1.8","1:2"],"range":["#2262ad","#8cc63e","#f9b51b","#a650a4","#e3202a"]}}}},
 {"data":{"name":"summary"},"transform":[{"filter":"datum.sig"}],"mark":{"type":"circle","size":60,"opacity":1},"encoding":{
  "x":{"field":"idx","type":"quantitative"},"y":{"field":"si","type":"quantitative"},
  "color":{"field":"ratio","type":"nominal","scale":{"domain":["1:1.2","1:1.4","1:1.6","1:1.8","1:2"],"range":["#2262ad","#8cc63e","#f9b51b","#a650a4","#e3202a"]},
   "legend":{"orient":"none","legendX":314,"legendY":4,"title":null,"padding":0,"symbolType":"circle","symbolSize":32,"symbolOpacity":1,"labelFontSize":8,"labelColor":"#555","labelAlign":"center","labelOffset":15,"rowPadding":7,"labelFont":"Noto Sans"}}}},
 {"data":{"name":"one"},"mark":{"type":"text","text":"Baseline","fontSize":13,"color":"#444","baseline":"alphabetic"},"encoding":{"x":{"datum":0.966,"type":"quantitative"},"y":{"datum":0.331,"type":"quantitative"}}},
 {"data":{"name":"one"},"mark":{"type":"text","text":"Adaptation","fontSize":13,"color":"#444","baseline":"alphabetic"},"encoding":{"x":{"datum":2.53,"type":"quantitative"},"y":{"datum":0.331,"type":"quantitative"}}},
 {"data":{"name":"one"},"mark":{"type":"text","text":"Washout","fontSize":13,"color":"#444","baseline":"alphabetic"},"encoding":{"x":{"datum":4.45,"type":"quantitative"},"y":{"datum":0.331,"type":"quantitative"}}},
 {"data":{"name":"one"},"mark":{"type":"text","text":"B","fontSize":19,"color":"#222","baseline":"alphabetic"},"encoding":{"x":{"datum":-0.753,"type":"quantitative"},"y":{"datum":0.392,"type":"quantitative"}}}
]}
],
"spacing":26
}
